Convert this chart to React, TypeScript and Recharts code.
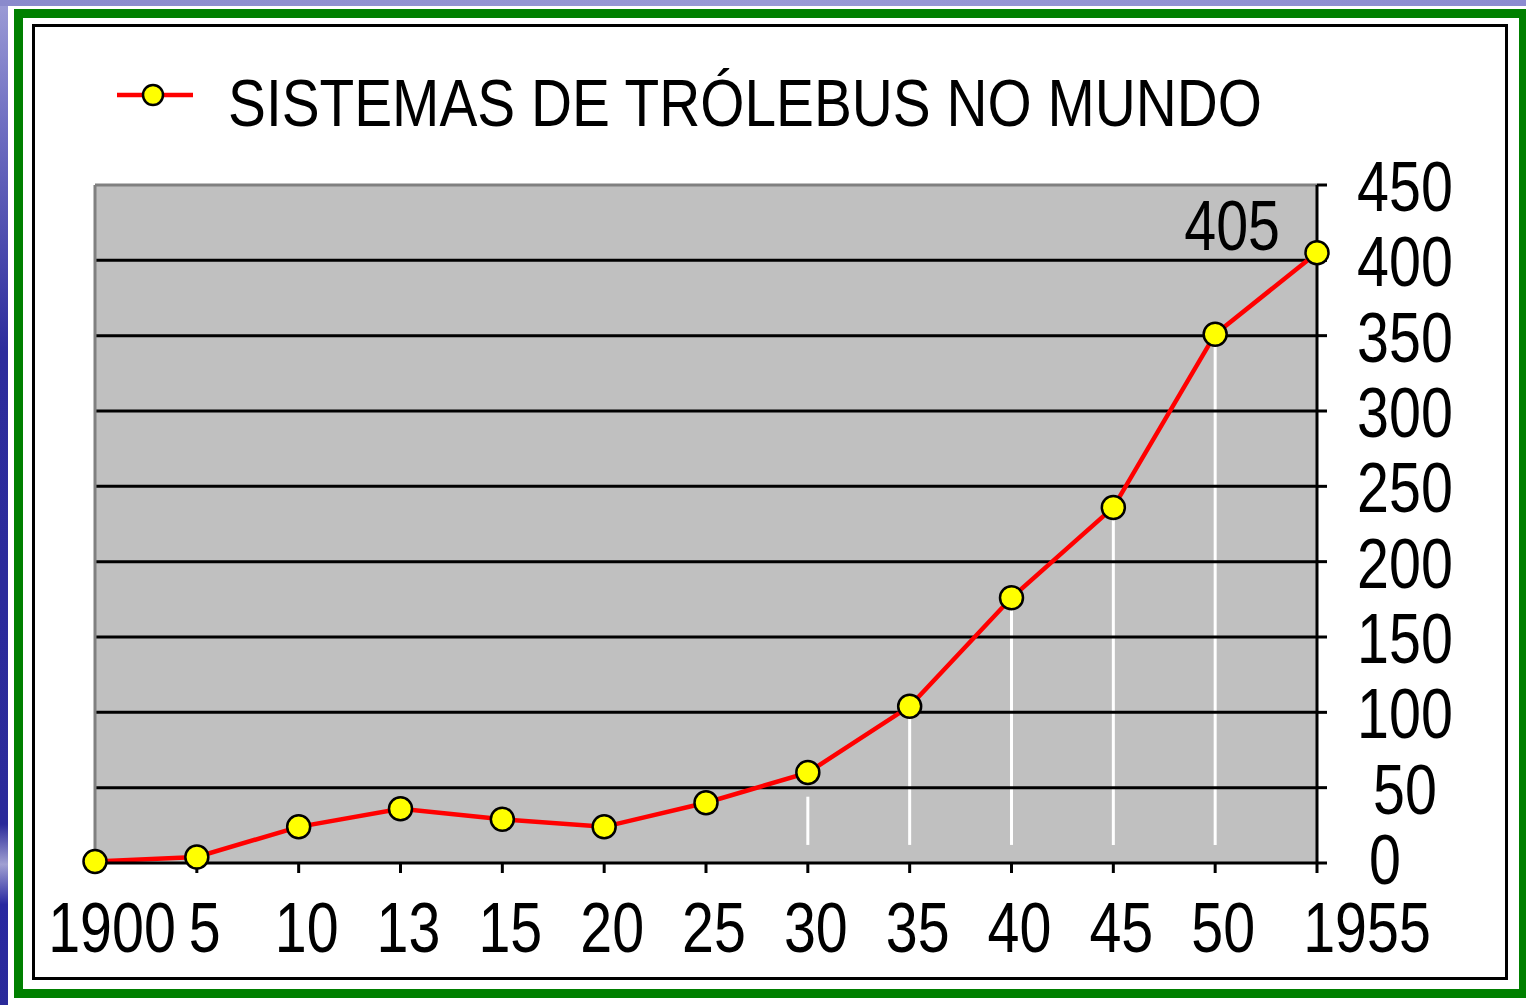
import React from 'react'
import { LineChart, Line, XAxis, YAxis, CartesianGrid, ReferenceLine, Legend, LabelList } from 'recharts'

// values
const years = ['1900', '5', '10', '13', '15', '20', '25', '30', '35', '40', '45', '50', '1955']
const systems = [1, 4, 24, 36, 29, 24, 40, 60, 104, 176, 236, 351, 405]
const yTicks = [0, 50, 100, 150, 200, 250, 300, 350, 400, 450]
const gridValues = [50, 100, 150, 200, 250, 300, 350, 400]

// white drop lines under some of the points
const dropYears = ['30', '35', '40', '45', '50']
const dropTops = [44, 98, 168, 228, 344]
const dropFloor = 12

const seriesName = 'SISTEMAS DE TRÓLEBUS NO MUNDO'

const data = years.map((year, i) => ({ year, systems: systems[i] }))

const FONT = '"Liberation Sans", Arial, sans-serif'

const XTick = (props: any) => {
  const { x, y, payload } = props
  const i = years.indexOf(payload.value)
  const shift = i === 0 ? 17 : i === years.length - 1 ? 50 : 8
  return (
    <text
      transform={`translate(${x + shift},${y + 79}) scale(0.82,1)`}
      textAnchor="middle"
      fontSize={70}
      fontFamily={FONT}
      fill="#000"
    >
      {payload.value}
    </text>
  )
}

const YTick = (props: any) => {
  const { x, y, payload } = props
  // the zero label sits a bit further left and higher in the original
  const isZero = payload.value === 0
  const dx = isZero ? 58 : 78
  const dy = isZero ? 21 : 26
  return (
    <text
      transform={`translate(${x + dx},${y + dy}) scale(0.82,1)`}
      textAnchor="middle"
      fontSize={70}
      fontFamily={FONT}
      fill="#000"
    >
      {payload.value}
    </text>
  )
}

const LastLabel = (props: any) => {
  const { x, y, value, index } = props
  if (index !== systems.length - 1) return null
  return (
    <text
      transform={`translate(${x - 37},${y - 3}) scale(0.82,1)`}
      textAnchor="end"
      fontSize={70}
      fontFamily={FONT}
      fill="#000"
    >
      {value}
    </text>
  )
}

const LegendBox = () => (
  <svg width={1526} height={160} style={{ display: 'block' }}>
    <line x1={117} y1={95} x2={193} y2={95} stroke="#ff0000" strokeWidth={4.5} />
    <circle cx={153} cy={95} r={10} fill="#ffff00" stroke="#000" strokeWidth={2.5} />
    <text
      x={228}
      y={126}
      fontSize={67}
      fontFamily={FONT}
      fill="#000"
      textLength={1034}
      lengthAdjust="spacingAndGlyphs"
    >
      {seriesName}
    </text>
  </svg>
)

export default function App() {
  return (
    <div style={{ position: 'absolute', left: 0, top: 0, width: 1526, height: 1005, background: '#fff', overflow: 'hidden' }}>
      {/* blue slide edge */}
      <div style={{ position: 'absolute', left: 0, top: 0, width: 8, height: 1005, background: 'linear-gradient(to bottom, #9c9cd6 0%, #7070c2 12%, #2c2c9c 35%, #2a2a9a 82%, #a0a0d2 86%, #2828a0 90%, #2a2a9a 100%)' }} />
      <div style={{ position: 'absolute', left: 0, top: 0, width: 1526, height: 6, background: 'linear-gradient(to right, #8a8acc, #9a9ad6 50%, #8c8cd0)' }} />
      {/* green frame */}
      <div style={{ position: 'absolute', left: 14, top: 9, width: 1514, height: 989, border: '9px solid #008000', boxSizing: 'border-box' }} />
      {/* black inner frame */}
      <div style={{ position: 'absolute', left: 32, top: 24, width: 1476, height: 956, border: '3px solid #000', boxSizing: 'border-box' }} />

      <div style={{ position: 'absolute', left: 0, top: 0 }}>
        <LineChart width={1526} height={1005} data={data} margin={{ top: 185, right: 69, bottom: 62, left: 95 }}>
          <CartesianGrid fill="#c0c0c0" horizontal={false} vertical={false} />
          <XAxis
            dataKey="year"
            scale="point"
            interval={0}
            height={80}
            tickSize={10}
            tickMargin={0}
            axisLine={{ stroke: '#000', strokeWidth: 3 }}
            tickLine={{ stroke: '#000', strokeWidth: 3 }}
            tick={<XTick />}
          />
          <YAxis
            orientation="right"
            width={140}
            domain={[0, 450]}
            ticks={yTicks}
            interval={0}
            tickSize={10}
            tickMargin={0}
            axisLine={{ stroke: '#000', strokeWidth: 3 }}
            tickLine={{ stroke: '#000', strokeWidth: 3 }}
            tick={<YTick />}
          />
          <Legend
            layout="vertical"
            align="center"
            verticalAlign="middle"
            width={1526}
            height={160}
            wrapperStyle={{ left: 0, top: 0 }}
            content={<LegendBox />}
          />
          {dropYears.map((yr, i) => (
            <ReferenceLine
              key={'drop' + yr}
              segment={[{ x: yr, y: dropFloor }, { x: yr, y: dropTops[i] }]}
              stroke="#ffffff"
              strokeWidth={3}
            />
          ))}
          {gridValues.map((v) => (
            <ReferenceLine key={'grid' + v} y={v} stroke="#000" strokeWidth={3} />
          ))}
          <ReferenceLine y={450} stroke="#808080" strokeWidth={3} />
          <ReferenceLine x={years[0]} stroke="#808080" strokeWidth={3} />
          <Line
            type="linear"
            dataKey="systems"
            name={seriesName}
            stroke="#ff0000"
            strokeWidth={4.5}
            dot={{ r: 11.5, fill: '#ffff00', stroke: '#000', strokeWidth: 2.5 }}
            activeDot={false}
            isAnimationActive={false}
          >
            <LabelList dataKey="systems" content={<LastLabel />} />
          </Line>
        </LineChart>
      </div>
    </div>
  )
}
